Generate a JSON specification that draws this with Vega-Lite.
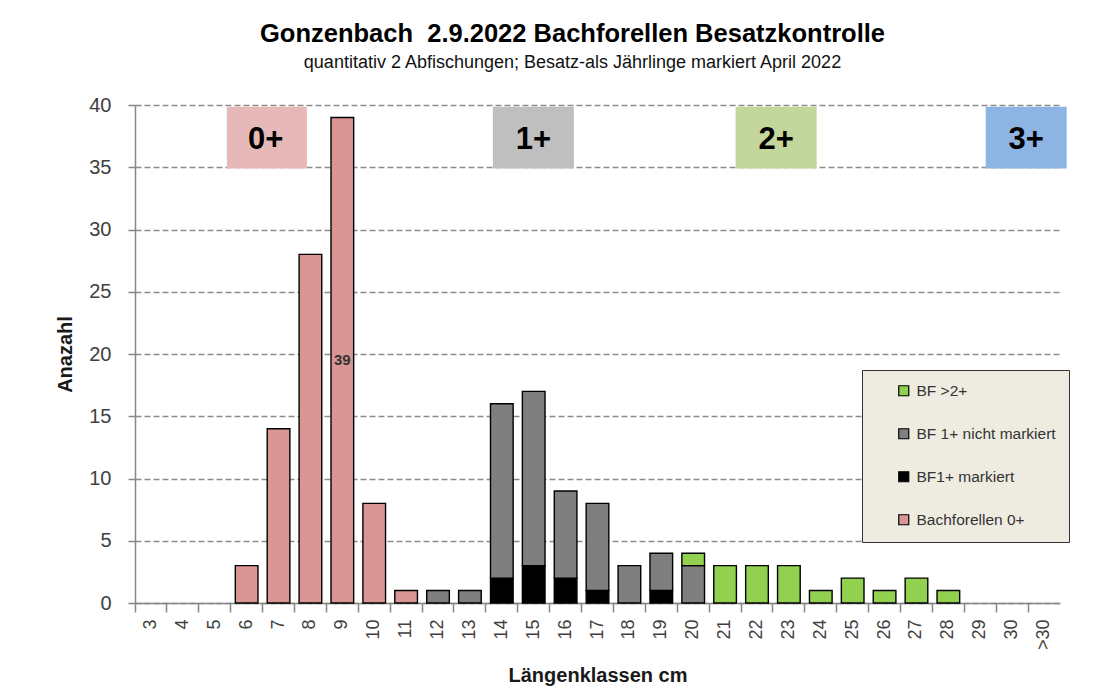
{
  "$schema": "https://vega.github.io/schema/vega-lite/v6.json",
  "width": 925,
  "height": 498,
  "autosize": {"type": "none"},
  "padding": {"left": 135, "top": 105, "right": 56, "bottom": 85},
  "background": "white",
  "title": {
    "text": "Gonzenbach \u00a02.9.2022 Bachforellen Besatzkontrolle",
    "subtitle": "quantitativ 2 Abfischungen; Besatz-als Jährlinge markiert April 2022",
    "anchor": "middle",
    "dx": -25,
    "offset": 23,
    "font": "Liberation Sans",
    "fontSize": 25.5,
    "fontWeight": "bold",
    "color": "#000000",
    "subtitleFont": "Liberation Sans",
    "subtitleFontSize": 18,
    "subtitleColor": "#111111",
    "subtitlePadding": 7
  },
  "config": {
    "font": "Liberation Sans",
    "view": {"stroke": null}
  },
  "datasets": {
    "fische": [
      {"klasse": "6", "gruppe": "Bachforellen 0+", "rang": 1, "anzahl": 3},
      {"klasse": "7", "gruppe": "Bachforellen 0+", "rang": 1, "anzahl": 14},
      {"klasse": "8", "gruppe": "Bachforellen 0+", "rang": 1, "anzahl": 28},
      {"klasse": "9", "gruppe": "Bachforellen 0+", "rang": 1, "anzahl": 39},
      {"klasse": "10", "gruppe": "Bachforellen 0+", "rang": 1, "anzahl": 8},
      {"klasse": "11", "gruppe": "Bachforellen 0+", "rang": 1, "anzahl": 1},
      {"klasse": "14", "gruppe": "BF1+ markiert", "rang": 2, "anzahl": 2},
      {"klasse": "15", "gruppe": "BF1+ markiert", "rang": 2, "anzahl": 3},
      {"klasse": "16", "gruppe": "BF1+ markiert", "rang": 2, "anzahl": 2},
      {"klasse": "17", "gruppe": "BF1+ markiert", "rang": 2, "anzahl": 1},
      {"klasse": "19", "gruppe": "BF1+ markiert", "rang": 2, "anzahl": 1},
      {"klasse": "12", "gruppe": "BF 1+ nicht markiert", "rang": 3, "anzahl": 1},
      {"klasse": "13", "gruppe": "BF 1+ nicht markiert", "rang": 3, "anzahl": 1},
      {"klasse": "14", "gruppe": "BF 1+ nicht markiert", "rang": 3, "anzahl": 14},
      {"klasse": "15", "gruppe": "BF 1+ nicht markiert", "rang": 3, "anzahl": 14},
      {"klasse": "16", "gruppe": "BF 1+ nicht markiert", "rang": 3, "anzahl": 7},
      {"klasse": "17", "gruppe": "BF 1+ nicht markiert", "rang": 3, "anzahl": 7},
      {"klasse": "18", "gruppe": "BF 1+ nicht markiert", "rang": 3, "anzahl": 3},
      {"klasse": "19", "gruppe": "BF 1+ nicht markiert", "rang": 3, "anzahl": 3},
      {"klasse": "20", "gruppe": "BF 1+ nicht markiert", "rang": 3, "anzahl": 3},
      {"klasse": "20", "gruppe": "BF >2+", "rang": 4, "anzahl": 1},
      {"klasse": "21", "gruppe": "BF >2+", "rang": 4, "anzahl": 3},
      {"klasse": "22", "gruppe": "BF >2+", "rang": 4, "anzahl": 3},
      {"klasse": "23", "gruppe": "BF >2+", "rang": 4, "anzahl": 3},
      {"klasse": "24", "gruppe": "BF >2+", "rang": 4, "anzahl": 1},
      {"klasse": "25", "gruppe": "BF >2+", "rang": 4, "anzahl": 2},
      {"klasse": "26", "gruppe": "BF >2+", "rang": 4, "anzahl": 1},
      {"klasse": "27", "gruppe": "BF >2+", "rang": 4, "anzahl": 2},
      {"klasse": "28", "gruppe": "BF >2+", "rang": 4, "anzahl": 1}
    ],
    "altersklassen": [
      {"alter": "0+", "von_cm": 5.38, "bis_cm": 7.89, "mitte_cm": 6.6},
      {"alter": "1+", "von_cm": 13.72, "bis_cm": 16.26, "mitte_cm": 14.99},
      {"alter": "2+", "von_cm": 21.33, "bis_cm": 23.87, "mitte_cm": 22.6},
      {"alter": "3+", "von_cm": 29.17, "bis_cm": 31.71, "mitte_cm": 30.44}
    ]
  },
  "layer": [
    {
      "data": {"name": "fische"},
      "layer": [
        {
          "mark": {"type": "bar", "stroke": "#000000", "strokeWidth": 1.4},
          "encoding": {
            "x": {
              "field": "klasse",
              "type": "nominal",
              "scale": {
                "domain": ["3","4","5","6","7","8","9","10","11","12","13","14","15","16","17","18","19","20","21","22","23","24","25","26","27","28","29","30",">30"],
                "paddingInner": 0.29,
                "paddingOuter": 0.145
              },
              "axis": {
                "title": "Längenklassen cm",
                "labelAngle": -90,
                "labelFontSize": 18,
                "labelColor": "#404040",
                "labelPadding": 7,
                "tickSize": 9,
                "tickColor": "#868686",
                "tickWidth": 1.5,
                "domainColor": "#868686",
                "domainWidth": 1.5,
                "bandPosition": -0.204,
                "grid": false,
                "titleFontSize": 20,
                "titleFontWeight": "bold",
                "titleColor": "#1a1a1a",
                "titleY": 62,
                "titleBaseline": "top"
              }
            },
            "y": {
              "field": "anzahl",
              "type": "quantitative",
              "scale": {"domain": [0, 40], "nice": false},
              "axis": {
                "title": "Anazahl",
                "values": [0, 5, 10, 15, 20, 25, 30, 35, 40],
                "grid": true,
                "gridDash": [6, 3],
                "gridColor": "#8c8c8c",
                "gridWidth": 1.3,
                "domainColor": "#868686",
                "domainWidth": 1.5,
                "tickColor": "#868686",
                "tickWidth": 1.5,
                "tickSize": 7,
                "labelFontSize": 20,
                "labelColor": "#404040",
                "labelPadding": 17,
                "titleFontSize": 20,
                "titleFontWeight": "bold",
                "titleColor": "#1a1a1a",
                "titlePadding": 13
              }
            },
            "color": {
              "field": "gruppe",
              "type": "nominal",
              "scale": {
                "domain": ["BF >2+", "BF 1+ nicht markiert", "BF1+ markiert", "Bachforellen 0+"],
                "range": ["#92D050", "#7F7F7F", "#000000", "#D99694"]
              },
              "legend": {
                "orient": "none",
                "legendX": 727,
                "legendY": 265,
                "title": null,
                "fillColor": "#EEECE1",
                "strokeColor": "#333333",
                "padding": 13,
                "rowPadding": 26,
                "symbolType": "square",
                "symbolSize": 100,
                "symbolStrokeColor": "#000000",
                "symbolStrokeWidth": 1.2,
                "symbolOffset": 21,
                "labelFontSize": 15.5,
                "labelColor": "#333333",
                "labelOffset": 5
              }
            },
            "order": {"field": "rang", "type": "quantitative", "sort": "ascending"}
          }
        },
        {
          "transform": [{"filter": "datum.klasse == '9'"}],
          "mark": {"type": "text", "fontSize": 15, "fontWeight": "bold", "color": "#333333", "baseline": "middle"},
          "encoding": {
            "x": {"field": "klasse", "type": "nominal"},
            "y": {"datum": 19.5, "type": "quantitative"},
            "text": {"field": "anzahl", "type": "quantitative"}
          }
        }
      ]
    },
    {
      "data": {"name": "altersklassen"},
      "layer": [
        {
          "mark": {"type": "rect"},
          "encoding": {
            "x": {"field": "von_cm", "type": "quantitative", "scale": {"domain": [2.5, 31.5], "nice": false, "zero": false}, "axis": null},
            "x2": {"field": "bis_cm"},
            "y": {"datum": 34.9, "type": "quantitative"},
            "y2": {"datum": 39.85},
            "fill": {
              "field": "alter",
              "type": "nominal",
              "scale": {"domain": ["0+", "1+", "2+", "3+"], "range": ["#E6B9B8", "#BFBFBF", "#C3D69B", "#8EB4E3"]},
              "legend": null
            }
          }
        },
        {
          "mark": {"type": "text", "fontSize": 31, "fontWeight": "bold", "color": "#000000", "baseline": "middle", "align": "center"},
          "encoding": {
            "x": {"field": "mitte_cm", "type": "quantitative", "axis": null},
            "y": {"datum": 37.2, "type": "quantitative"},
            "text": {"field": "alter", "type": "nominal"}
          }
        }
      ]
    }
  ],
  "resolve": {"scale": {"x": "independent"}}
}
